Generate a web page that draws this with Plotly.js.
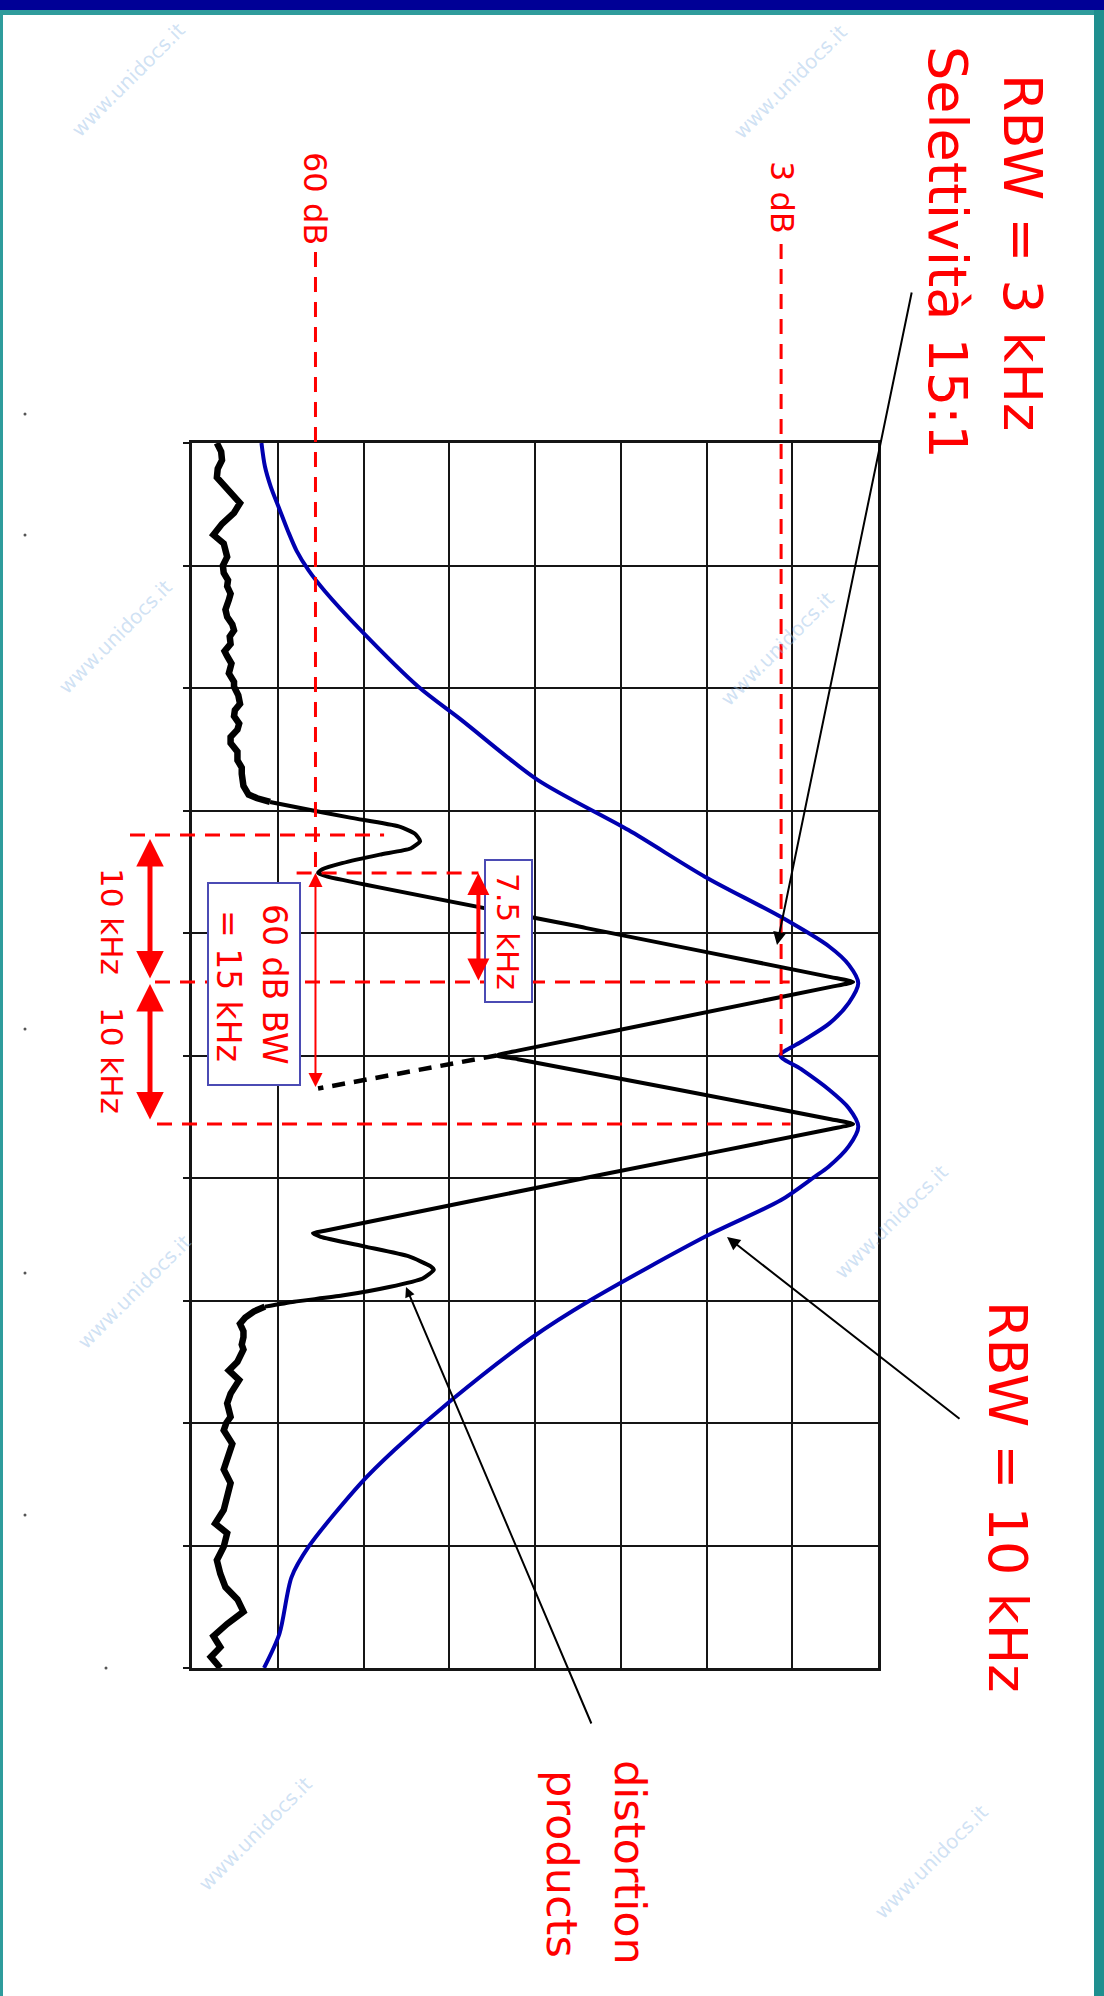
<!DOCTYPE html>
<html><head><meta charset="utf-8">
<script src="https://cdn.plot.ly/plotly-3.0.1.min.js"></script>
<style>html,body{margin:0;padding:0;background:#fff;}#chart{width:1104px;height:1996px;}</style>
</head><body><div id="chart"></div>
<script>
// Units: horizontal = amplitude (grid divisions, 0..8), vertical = frequency (grid divisions, 0..10, top to bottom)
const blueX = [0.81,0.85,0.92,1.02,1.12,1.22,1.36,1.55,1.97,2.64,3.14,4.03,5.09,5.98,6.87,7.43,7.66,7.77,7.66,7.43,7.10,6.86,7.10,7.43,7.66,7.77,7.66,7.42,7.26,6.87,6.01,4.64,3.97,3.03,2.36,1.97,1.36,1.16,1.02,0.84];
const blueY = [0.00,0.19,0.36,0.54,0.72,0.88,1.04,1.21,1.53,1.99,2.26,2.75,3.16,3.54,3.87,4.11,4.26,4.41,4.57,4.74,4.89,5.00,5.11,5.28,5.43,5.58,5.74,5.91,5.99,6.18,6.47,7.00,7.30,7.81,8.22,8.49,9.01,9.26,9.72,10.00];

const noiseTopX = [0.29,0.34,0.35,0.30,0.29,0.41,0.50,0.56,0.49,0.40,0.35,0.25,0.33,0.37,0.41,0.36,0.37,0.42,0.41,0.45,0.43,0.39,0.41,0.47,0.49,0.44,0.45,0.38,0.41,0.46,0.43,0.49,0.49,0.54,0.56,0.50,0.49,0.55,0.53,0.45,0.45,0.53,0.53,0.58,0.58,0.60,0.66,0.76,0.91];
const noiseTopY = [0.00,0.07,0.14,0.21,0.28,0.38,0.45,0.49,0.57,0.62,0.66,0.75,0.79,0.82,0.93,1.00,1.06,1.12,1.17,1.23,1.28,1.36,1.42,1.48,1.53,1.58,1.64,1.70,1.74,1.80,1.88,1.95,1.99,2.06,2.13,2.18,2.23,2.29,2.34,2.40,2.45,2.52,2.59,2.65,2.70,2.80,2.87,2.90,2.93];

const blackX = [0.91,1.19,1.86,2.41,2.60,2.66,2.55,2.19,1.75,1.52,1.47,1.58,4.60,7.45,7.71,7.45,3.80,3.55,3.80,7.45,7.71,7.45,4.80,1.55,1.41,1.50,2.02,2.53,2.78,2.82,2.69,2.30,1.75,1.19,0.85];
const blackY = [2.93,2.97,3.06,3.13,3.19,3.25,3.31,3.36,3.43,3.48,3.51,3.54,3.96,4.36,4.40,4.44,4.96,5.00,5.03,5.52,5.56,5.60,5.97,6.43,6.45,6.48,6.56,6.64,6.72,6.75,6.82,6.89,6.96,7.01,7.05];

const dashX = [3.55,1.47];
const dashY = [5.00,5.27];

const noiseBotX = [0.85,0.72,0.62,0.56,0.60,0.60,0.58,0.60,0.53,0.43,0.55,0.45,0.41,0.45,0.40,0.37,0.47,0.41,0.37,0.45,0.41,0.37,0.27,0.41,0.37,0.29,0.33,0.39,0.53,0.60,0.41,0.25,0.33,0.22,0.33];
const noiseBotY = [7.05,7.09,7.14,7.19,7.25,7.30,7.36,7.40,7.50,7.57,7.65,7.76,7.84,7.95,8.00,8.06,8.17,8.28,8.38,8.49,8.60,8.71,8.82,8.90,9.01,9.12,9.23,9.34,9.44,9.54,9.64,9.74,9.83,9.91,10.00];

const toneY = [4.40, 5.56];     // the two tones
const spurY = 3.20;             // upper distortion product level line
const valleyY = 3.51;           // 60 dB point above tone 1
const dipY = 5.00;              // 3 dB dip between tones (RBW 10 kHz)
const bwEndY = 5.27;            // 60 dB point below tone 1
const level3dB = 6.87, level60dB = 1.44;
const arrow75X = 3.34;

// page geometry
const W=1104,H=1996,L=192,R=226,T=443,B=328,PW=W-L-R,PH=H-T-B;
const P = x => (x-L)/PW, Q = y => (H-B-y)/PH;
const dxp = v => L + v/8*PW, dyp = v => T + v/10*PH;
const RED = '#ff0000', FONT = 'DejaVu Sans';

const traces = [
  {x: blueX, y: blueY, mode:'lines', line:{color:'#0000b0', width:4, shape:'spline', smoothing:0.8}},
  {x: noiseTopX, y: noiseTopY, mode:'lines', line:{color:'#000', width:6.5}},
  {x: blackX, y: blackY, mode:'lines', line:{color:'#000', width:4, shape:'spline', smoothing:0.5}},
  {x: dashX, y: dashY, mode:'lines', line:{color:'#000', width:4.5, dash:'13px,9px'}},
  {x: noiseBotX, y: noiseBotY, mode:'lines', line:{color:'#000', width:6.5}}
];

function seg(x0,y0,x1,y1,color,width,dash){
  return {type:'line', xref:'paper', yref:'paper', x0:P(x0), y0:Q(y0), x1:P(x1), y1:Q(y1), layer:'above', line:{color, width, dash}};
}
function rect(x0,y0,x1,y1,fill,lc,lw,layer){
  return {type:'rect', xref:'paper', yref:'paper', x0:P(x0), y0:Q(y0), x1:P(x1), y1:Q(y1), fillcolor:fill, layer:layer||'above', line:{color:lc||fill, width:lw||0}};
}
const DASH='15px,10px';
const shapes = [
  // red dashed reference lines
  seg(dxp(level60dB), 252, dxp(level60dB), dyp(valleyY), RED, 3, DASH),
  seg(dxp(level3dB), 244, dxp(level3dB), dyp(dipY), RED, 3, DASH),
  seg(130, dyp(spurY), dxp(2.24), dyp(spurY), RED, 3, DASH),
  seg(dxp(1.22), dyp(valleyY), dxp(arrow75X), dyp(valleyY), RED, 3, DASH),
  seg(155, dyp(toneY[0]), dxp(6.97), dyp(toneY[0]), RED, 3, DASH),
  seg(157, dyp(toneY[1]), dxp(6.98), dyp(toneY[1]), RED, 3, DASH),
  // label boxes
  rect(485, 860, 532, 1002, '#ffffff', '#4b4bb4', 2),
  rect(208, 883, 300, 1085, '#ffffff', '#4b4bb4', 2),
  // slide frame
  rect(0, 0, 1104, 10, '#000096'),
  rect(0, 10, 1104, 15, '#2f9c9c'),
  rect(0, 10, 3, 1996, '#2f9c9c'),
  rect(1094, 10, 1104, 1996, '#1f8f8f'),
];
// tiny marks in left margin
[[25,414],[25,535],[25,1029],[25,1273],[25,1515],[106,1668]].forEach(d=>{
  shapes.push({type:'circle', xref:'paper', yref:'paper', x0:P(d[0]-1.5), x1:P(d[0]+1.5), y0:Q(d[1]-1.5), y1:Q(d[1]+1.5), fillcolor:'#555', line:{width:0}, layer:'above'});
});

function txt(t, cx, cy, size, color, angle){
  return {xref:'paper', yref:'paper', x:P(cx), y:Q(cy), text:t, showarrow:false,
          textangle: angle===undefined?90:angle, xanchor:'center', yanchor:'middle',
          font:{family:FONT, size, color: color||RED}};
}
function arrow(hx, hy, tx, ty, color, width, size, both){
  const a = {xref:'paper', yref:'paper', x:P(hx), y:Q(hy), ax:tx-hx, ay:ty-hy,
             text:'', showarrow:true, arrowhead:2, arrowsize:size, arrowwidth:width,
             arrowcolor:color, standoff:0, startstandoff:0};
  if(both){ a.arrowside='end+start'; a.startarrowhead=2; a.startarrowsize=size; }
  return a;
}
const annotations = [
  txt('RBW = 3 kHz', 1022, 252, 54),
  txt('Selettività 15:1', 947, 252, 54),
  txt('3 dB', 782, 197, 32),
  txt('60 dB', 315, 198, 32),
  txt('RBW = 10 kHz', 1008, 1497, 54),
  txt('distortion', 630, 1862, 43),
  txt('products', 562, 1864, 43),
  txt('7.5 kHz', 508, 931, 31),
  txt('60 dB BW', 275, 984, 33),
  txt('= 15 kHz', 229, 986, 33),
  txt('10 kHz', 112, 921, 31),
  txt('10 kHz', 112, 1060, 31),
  // pointer arrows
  arrow(777, 945, 912, 291, '#000', 2, 1.3, false),
  arrow(727, 1237, 961, 1420, '#000', 2, 1.3, false),
  arrow(406, 1287, 592, 1725, '#000', 2, 0.01, false),
  // red dimension arrows
  arrow(150, dyp(spurY)+4, 150, dyp(toneY[0])-2, RED, 5, 1.1, true),
  arrow(150, dyp(toneY[0])+2, 150, dyp(toneY[1])-3, RED, 5, 1.1, true),
  arrow(dxp(arrow75X), dyp(valleyY), dxp(arrow75X), dyp(toneY[0]), RED, 4, 1.1, true),
  arrow(dxp(level60dB), dyp(valleyY), dxp(level60dB), dyp(bwEndY), RED, 2, 1.4, true),
];
// watermarks
[[128,80],[790,82],[115,637],[777,649],[134,1292],[891,1222],[255,1834],[931,1862]].forEach(p=>{
  annotations.push(txt('www.unidocs.it', p[0], p[1], 20, 'rgba(150,190,230,0.45)', -45));
});

const axisCommon = {showgrid:true, gridcolor:'#151515', gridwidth:2, zeroline:false, showticklabels:false,
  showline:true, mirror:true, linecolor:'#151515', linewidth:3, dtick:1, tick0:0, fixedrange:true};
const layout = {
  width:W, height:H, margin:{l:L, r:R, t:T, b:B, pad:0},
  paper_bgcolor:'#ffffff', plot_bgcolor:'#ffffff', showlegend:false,
  xaxis: Object.assign({}, axisCommon, {range:[0,8], ticks:''}),
  yaxis: Object.assign({}, axisCommon, {range:[10,0], ticks:'outside', ticklen:6, tickwidth:2, tickcolor:'#151515'}),
  shapes, annotations
};
Plotly.newPlot('chart', traces, layout, {staticPlot:true, displayModeBar:false});
</script></body></html>
